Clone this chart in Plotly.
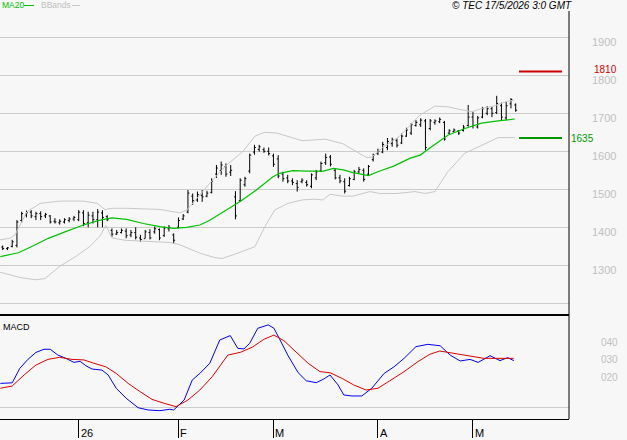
import plotly.graph_objects as go

# ---------------- data ----------------
bar_idx = list(range(109))
opens = [1348,1344,1350,1352,1418,1432,1440,1428,1436,1430,
         1430,1416,1412,1414,1418,1422,1420,1438,1412,1430,
         1420,1438,1428,1392,1382,1386,1390,1380,1386,1372,
         1370,1386,1388,1394,1378,1396,1380,1400,1422,1440,
         1482,1472,1484,1482,1492,1540,1550,1560,1545,1480,
         1470,1512,1548,1598,1605,1604,1600,1588,1580,1540,
         1530,1522,1515,1520,1518,1508,1530,1548,1570,1585,
         1550,1530,1520,1510,1526,1546,1550,1540,1578,1594,
         1598,1610,1620,1628,1622,1640,1648,1668,1670,1680,
         1660,1676,1678,1676,1648,1652,1654,1655,1668,1690,
         1664,1690,1700,1712,1702,1720,1688,1725,1722]
highs = [1352,1348,1367,1419,1441,1444,1445,1441,1442,1438,
         1432,1424,1421,1424,1427,1430,1445,1445,1441,1441,
         1448,1445,1432,1397,1393,1397,1397,1393,1400,1380,
         1393,1395,1402,1397,1402,1406,1384,1426,1435,1498,
         1489,1494,1498,1496,1529,1564,1573,1568,1564,1495,
         1529,1533,1594,1617,1617,1610,1610,1594,1590,1546,
         1538,1529,1524,1529,1524,1542,1551,1573,1594,1590,
         1555,1538,1529,1533,1551,1559,1555,1564,1594,1607,
         1625,1635,1636,1634,1647,1662,1674,1682,1687,1685,
         1685,1684,1689,1680,1658,1660,1656,1669,1722,1704,
         1693,1717,1719,1717,1746,1728,1730,1740,1726]
lows = [1340,1340,1347,1347,1412,1426,1424,1419,1419,1424,
        1410,1410,1407,1410,1413,1416,1416,1403,1400,1410,
        1400,1400,1416,1375,1380,1384,1371,1374,1368,1362,
        1371,1368,1383,1366,1375,1389,1356,1397,1419,1437,
        1459,1467,1467,1479,1489,1530,1538,1533,1535,1421,
        1467,1507,1542,1591,1599,1596,1589,1559,1529,1520,
        1516,1511,1494,1516,1507,1503,1524,1546,1564,1560,
        1526,1516,1489,1507,1524,1542,1520,1535,1573,1590,
        1595,1603,1612,1610,1619,1638,1643,1665,1664,1603,
        1655,1670,1674,1628,1645,1650,1643,1652,1665,1660,
        1660,1687,1695,1690,1698,1680,1682,1713,1704]
closes = [1344,1346,1362,1414,1436,1438,1430,1436,1428,1434,
          1414,1414,1416,1420,1422,1426,1440,1410,1432,1420,
          1440,1426,1420,1382,1386,1392,1378,1386,1374,1368,
          1388,1372,1396,1372,1398,1400,1366,1418,1430,1490,
          1470,1486,1480,1490,1522,1556,1564,1540,1550,1430,
          1524,1528,1590,1610,1612,1600,1594,1566,1535,1528,
          1522,1518,1505,1524,1512,1538,1546,1568,1584,1566,
          1530,1522,1495,1528,1546,1552,1526,1560,1590,1600,
          1618,1626,1630,1616,1640,1656,1670,1676,1682,1610,
          1680,1680,1684,1632,1654,1656,1648,1664,1690,1668,
          1688,1712,1712,1700,1726,1690,1720,1736,1708]

ma_idx = [-0.5, 3.3, 6, 9.6, 13.1, 17, 20.5, 23, 26.1, 29.6, 33.1, 35.9, 38.7, 41.5, 43.5,
          46.4, 49.9, 53.4, 56.9, 58.3, 61.1, 64, 67.5, 69.6, 71.7, 73.8, 77, 79.4, 82.3,
          85.8, 87.9, 90.3, 93.8, 97.3, 100.8, 104.3, 107.8]
ma_val = [1323, 1333, 1349, 1371, 1388, 1406, 1419, 1425, 1421, 1410, 1402, 1397, 1400, 1406, 1418,
          1441, 1467, 1498, 1533, 1542, 1549, 1548, 1548, 1555, 1551, 1544, 1536, 1548, 1561,
          1582, 1590, 1612, 1643, 1660, 1674, 1680, 1685]

bb_up_idx = [-0.6, 1.5, 2.6, 3.6, 5.1, 7.9, 12.1, 16.9, 19.9, 21.5, 23.2, 26.2, 33.1, 37.3, 38.8,
             41.5, 43.6, 46.8, 50.6, 53.1, 55.2, 57.7, 60.5, 63.0, 65.7, 67.9, 71.6, 74.6, 76.7,
             77.7, 80.1, 83.6, 87.8, 91.0, 93.7, 96.7, 98.8, 100.9, 103.6, 105.8, 107.6]
bb_up_val = [1367, 1371, 1380, 1406, 1441, 1463, 1469, 1469, 1463, 1447, 1450, 1450, 1447, 1438, 1446,
             1485, 1516, 1560, 1600, 1640, 1650, 1648, 1638, 1628, 1630, 1632, 1620, 1599, 1583,
             1585, 1611, 1640, 1695, 1719, 1717, 1709, 1704, 1713, 1720, 1730, 1735]
bb_lo_idx = [-0.6, 1.5, 3.6, 6.8, 8.9, 12.1, 15.6, 18.4, 20.5, 21.7, 23.0, 25.7, 31.0, 35.2, 37.3,
             41.5, 44.7, 46.2, 49.5, 53.1, 55.2, 57.3, 60.1, 63.0, 65.7, 67.4, 68.9, 71.6, 73.7,
             77.3, 79.4, 83.0, 86.8, 88.9, 91.0, 93.7, 97.3, 100.9, 104.3, 107.8]
bb_lo_val = [1282, 1276, 1268, 1262, 1265, 1298, 1325, 1350, 1377, 1405, 1372, 1366, 1362, 1360, 1354,
             1332, 1320, 1318, 1332, 1349, 1402, 1446, 1463, 1472, 1474, 1472, 1487, 1482, 1482,
             1494, 1489, 1489, 1494, 1489, 1494, 1546, 1595, 1617, 1636, 1636]

macd_idx = [-0.5, 2, 3.6, 5.3, 7, 8.7, 10, 11.6, 13.3, 15, 16.3, 17.5, 18.8, 20.9, 22.2,
            23.9, 26, 28.5, 30.6, 33.1, 35.2, 36, 38.2, 39.9, 41.5, 43.6, 45.7, 47.9, 49.5, 50.8,
            52, 53.7, 55.9, 57.1, 58.4, 60, 62.2, 63.9, 66, 67.6, 68.9, 70.6, 71.8, 73.5, 75.6,
            77.7, 80.3, 82.4, 84.5, 87, 89.5, 92.1, 94.2, 96.3, 98.4, 100.1, 102.6, 104.7, 106.3, 107.6]
macd_val = [13.5, 13.8, 22.1, 27.2, 31.2, 33.0, 33.0, 29.7, 27.8, 25.5, 26.1, 23.6, 21.7, 21.1, 18.3,
            10.7, 5.0, -0.4, -1.7, -2.1, -1.3, -1.7, 4.0, 15.4, 19.2, 25.0, 38.3, 40.8, 33.5, 33.2,
            36.4, 45.0, 46.9, 45.0, 38.3, 29.7, 19.6, 15.0, 13.9, 16.0, 18.3, 12.6, 6.9, 6.3, 6.3,
            10.7, 19.2, 23.0, 27.8, 34.5, 35.8, 35.0, 29.7, 26.3, 27.2, 25.5, 29.3, 26.5, 28.2, 26.5]
sig_idx = [-0.5, 2, 4.5, 7, 9.5, 12, 14.6, 17.1, 19.2, 21.7, 23.9, 26.4, 28.9, 31.4, 34,
           36.5, 39, 41.5, 44.1, 47.4, 50, 52.5, 55, 57.1, 59.2, 61.8, 64.3, 66.8, 68.9, 71.4,
           73.9, 76.5, 79, 81.5, 84.5, 87.4, 89.9, 92, 94.2, 96.3, 98.8, 101.3, 103.8, 107.6]
sig_val = [10.7, 12, 18.3, 24, 27.2, 28.4, 27.2, 26.9, 25, 23, 19.2, 13.5, 8.8, 4.4, 2.1,
           0.2, 4.0, 9.7, 17.3, 29.7, 31.2, 34.1, 38.7, 41.1, 37.9, 31.6, 25, 20.2, 19.6, 16.4,
           12.6, 9.7, 10.7, 15, 20.2, 25.9, 30.1, 32, 31, 29.7, 28.8, 27.8, 27.8, 27.8]

price_ticks = [1200, 1300, 1400, 1500, 1600, 1700, 1800, 1900]
price_labels = ["", "1300", "1400", "1500", "1600", "1700", "1800", "1900"]
macd_ticks = [20, 30, 40]
macd_labels = ["020", "030", "040"]
month_pos = [16, 37, 57, 79, 99]
month_labels = ["26", "F", "M", "A", "M"]
resistance = 1810
support = 1635
title_text = "© TEC 17/5/2026 3:0 GMT"

# ---------------- figure ----------------
W, H = 627, 440
ML, MR, MT, MB = 0, 58, 0, 21
PW, PH = W - ML - MR, H - MT - MB        # 569 x 419
SEP = 315                                 # separator y px
BG = "#f7f7f7"
GRID = "#cccccc"
LBL = "#c0c0c0"
FONT = "Liberation Sans"

def py(ypx):
    return (PH - ypx) / PH

def px(xpx):
    return xpx / PW

fig = go.Figure()
fig.add_trace(go.Scatter(x=bb_up_idx, y=bb_up_val, mode="lines",
                         line=dict(color="#c8c8c8", width=1), hoverinfo="skip"))
fig.add_trace(go.Scatter(x=bb_lo_idx, y=bb_lo_val, mode="lines",
                         line=dict(color="#c8c8c8", width=1), hoverinfo="skip"))
fig.add_trace(go.Scatter(x=ma_idx, y=ma_val, mode="lines",
                         line=dict(color="#00c000", width=1.2), hoverinfo="skip"))
fig.add_trace(go.Ohlc(x=bar_idx, open=opens, high=highs, low=lows, close=closes,
                      increasing=dict(line=dict(color="black", width=1)),
                      decreasing=dict(line=dict(color="black", width=1)),
                      tickwidth=0.3))
fig.add_trace(go.Scatter(x=macd_idx, y=macd_val, mode="lines", xaxis="x2", yaxis="y2",
                         line=dict(color="#0000ee", width=1), hoverinfo="skip"))
fig.add_trace(go.Scatter(x=sig_idx, y=sig_val, mode="lines", xaxis="x2", yaxis="y2",
                         line=dict(color="#dd0000", width=1), hoverinfo="skip"))

xr = [-2.7 / 4.75, (PW - 2.7) / 4.75]
main_dom = [py(SEP), 1]
macd_dom = [0, py(SEP + 1)]
# main price range: 1900 at y=37.3 px, 0.38 px per unit
p_top = 1900 + 37.3 / 0.38
p_bot = 1900 - (SEP - 37.3) / 0.38
# macd range: zero at y=407 px, 1.75 px per unit
m_top = (407 - (SEP + 1)) / 1.75
m_bot = -(PH - 407) / 1.75

fig.update_layout(
    width=W, height=H, margin=dict(l=ML, r=MR, t=MT, b=MB),
    paper_bgcolor=BG, plot_bgcolor=BG, showlegend=False,
    font=dict(family=FONT, size=10, color="black"),
    xaxis=dict(domain=[0, 1], range=xr, anchor="y", showticklabels=False,
               showgrid=False, zeroline=False, rangeslider=dict(visible=False), fixedrange=True),
    yaxis=dict(domain=main_dom, range=[p_bot, p_top], side="right", anchor="x",
               tickvals=price_ticks, ticktext=price_labels, showgrid=True, gridcolor=GRID,
               gridwidth=1, zeroline=False, ticks="", ticklabelstandoff=22, ticklabelshift=5,
               tickfont=dict(color=LBL, size=11, family=FONT)),
    xaxis2=dict(domain=[0, 1], range=xr, anchor="y2", showgrid=False, zeroline=False,
                tickvals=month_pos, ticktext=[""] * len(month_pos), ticks="outside",
                ticklen=18, tickcolor="black", tickwidth=1,
                showline=True, linecolor="black", linewidth=1),
    yaxis2=dict(domain=macd_dom, range=[m_bot, m_top], side="right", anchor="x2",
                tickvals=macd_ticks, ticktext=macd_labels, showgrid=False,
                zeroline=True, zerolinecolor=GRID, zerolinewidth=1, ticks="",
                ticklabelstandoff=31, ticklabelshift=5,
                tickfont=dict(color=LBL, size=10, family=FONT)),
)

shapes = []
# separator and borders
shapes.append(dict(type="line", xref="paper", yref="paper", x0=0, x1=1,
                   y0=py(SEP), y1=py(SEP), line=dict(color="black", width=2)))
shapes.append(dict(type="line", xref="paper", yref="paper", x0=1, x1=1,
                   y0=0, y1=py(11), line=dict(color="black", width=1)))
# level lines
shapes.append(dict(type="line", xref="paper", yref="y", x0=px(519), x1=px(562),
                   y0=resistance, y1=resistance, line=dict(color="#cc0000", width=2)))
shapes.append(dict(type="line", xref="paper", yref="y", x0=px(519), x1=px(562),
                   y0=support, y1=support, line=dict(color="#009900", width=2)))
# legend swatches
shapes.append(dict(type="line", xref="paper", yref="paper", x0=px(24), x1=px(34),
                   y0=py(5.5), y1=py(5.5), line=dict(color="#00c000", width=1)))
shapes.append(dict(type="line", xref="paper", yref="paper", x0=px(72), x1=px(80),
                   y0=py(5.5), y1=py(5.5), line=dict(color="#c8c8c8", width=1)))
fig.update_layout(shapes=shapes)

ann = []
ann.append(dict(text="MA20", xref="paper", yref="paper", x=px(0), y=py(5.5),
                xanchor="left", yanchor="middle", showarrow=False,
                font=dict(color="#00c000", size=8.5, family=FONT)))
ann.append(dict(text="BBands", xref="paper", yref="paper", x=px(39), y=py(5.5),
                xanchor="left", yanchor="middle", showarrow=False,
                font=dict(color=LBL, size=8.5, family=FONT)))
ann.append(dict(text="<i>" + title_text + "</i>", xref="paper", yref="paper", x=px(574), y=py(5.5),
                xanchor="right", yanchor="middle", showarrow=False,
                font=dict(color="black", size=10, family=FONT)))
ann.append(dict(text="MACD", xref="paper", yref="paper", x=px(1), y=py(327),
                xanchor="left", yanchor="middle", showarrow=False,
                font=dict(color="black", size=9, family=FONT)))
ann.append(dict(text=str(resistance), xref="paper", yref="y", x=px(592), y=resistance,
                xanchor="left", yanchor="middle", yshift=2, showarrow=False,
                font=dict(color="#cc0000", size=10, family=FONT)))
ann.append(dict(text=str(support), xref="paper", yref="y", x=px(569), y=support,
                xanchor="left", yanchor="middle", showarrow=False,
                font=dict(color="#009900", size=10, family=FONT)))
for pos, lab in zip(month_pos, month_labels):
    ann.append(dict(text=lab, xref="x2", yref="paper", x=pos, y=0, yshift=-14,
                    xanchor="left", yanchor="middle", xshift=0, showarrow=False,
                    font=dict(color="black", size=11, family=FONT)))
fig.update_layout(annotations=ann)

fig.write_html("out.html")
